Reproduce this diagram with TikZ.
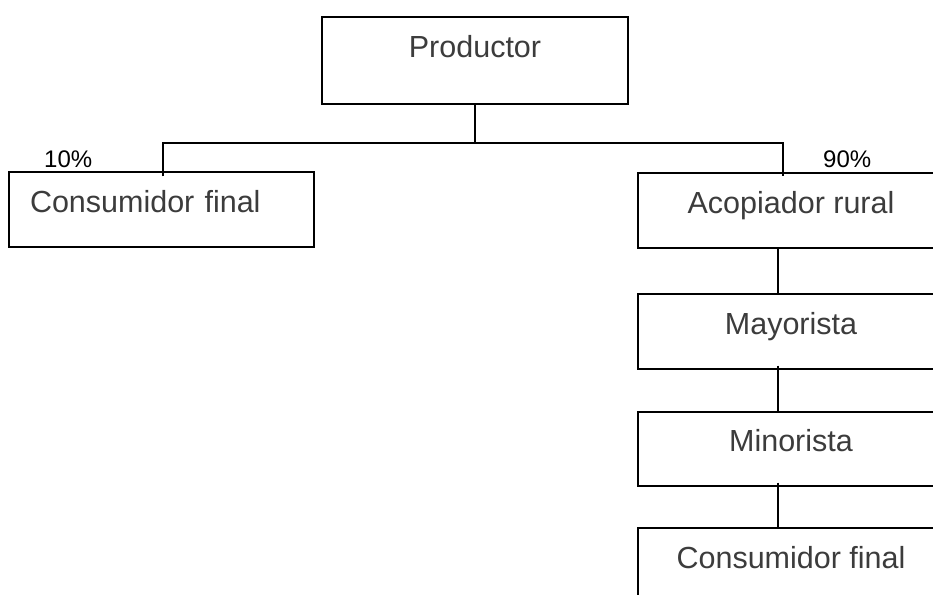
\documentclass[tikz,border=0pt]{standalone}
\usepackage{fontspec}
\setmainfont{Liberation Sans}
\usepackage{tikz}
\usetikzlibrary{calc}
\definecolor{txtgray}{RGB}{60,60,60}

\begin{document}
\begin{tikzpicture}[x=1pt,y=-1pt]
\tikzstyle{stage}=[draw, line width=1.2pt, minimum width=306pt, minimum height=75pt, inner sep=0pt, text height=22pt, text depth=17pt, text=txtgray, font=\fontsize{30.5}{36}\selectfont]
\tikzstyle{share}=[inner sep=0pt, anchor=base west, font=\fontsize{24}{28}\selectfont]
\tikzstyle{link}=[line width=1.2pt]

\useasboundingbox (0,0) rectangle (933,594);
\clip (0,0) rectangle (933,594);

%% ========== PRODUCER ==========
\node[stage, minimum height=87pt, text depth=29pt] (prod) at (475,60.5) {Productor};

%% ========== DIRECT SALE ==========
\node[stage, minimum width=305pt, text width=263pt, align=left] (cons-dir) at (161.5,209.5) {Consumidor final};
\node[share] (share-dir) at (44,167) {10\%};

%% ========== INTERMEDIARIES ==========
\node[stage] (acop) at (791,210.5) {Acopiador rural};
\node[stage] (mayor) at (791,331.5) {Mayorista};
\node[stage, minimum height=74pt] (minor) at (791,449) {Minorista};
\node[stage] (cons-fin) at (791,565.5) {Consumidor final};
\node[share] (share-int) at (823,167) {90\%};

%% ========== CONNECTIONS ==========
\coordinate (fork) at (475,143);
\coordinate (fork-l) at (163,143);
\coordinate (fork-r) at (783,143);
\draw[link] (prod.south) -- (fork);
\draw[link, shorten <=-5pt, shorten >=-4pt] (fork-l |- cons-dir.north) -- (fork-l) -- (fork-r) -- (fork-r |- acop.north);

% Chain of intermediaries
\draw[link] ([xshift=-13pt]acop.south) -- ([xshift=-13pt]mayor.north);
\draw[link, shorten <=-4pt] ([xshift=-13pt]mayor.south) -- ([xshift=-13pt]minor.north);
\draw[link, shorten <=-4pt] ([xshift=-13pt]minor.south) -- ([xshift=-13pt]cons-fin.north);

\end{tikzpicture}
\end{document}
